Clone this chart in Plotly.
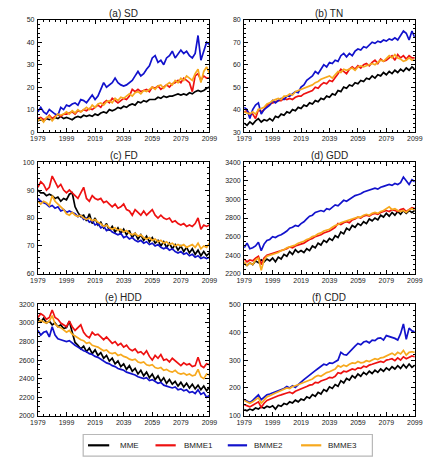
import plotly.graph_objects as go

YEARS = list(range(1979, 2100, 2))
SERIES = ["MME", "BMME1", "BMME2", "BMME3"]
COLORS = ["#000000", "#ee1111", "#1212cc", "#f7a91e"]
XTICKS = [1979, 1999, 2019, 2039, 2059, 2079, 2099]

SD_MME = [5, 5.5, 5, 6, 5.5, 6, 6.5, 6, 7, 6,
          6.5, 6, 5.5, 6.5, 7, 6.5, 7.5, 7, 7.5, 7,
          8, 7.5, 8.5, 9, 8.5, 10, 9.5, 10, 11, 10.5,
          11.5, 11, 12, 12.5, 12, 13.5, 13, 14, 13.5, 14.5,
          14.5, 14.5, 15.5, 15, 16, 15.5, 16, 16, 16.5, 17,
          16.5, 17, 16.5, 17.5, 17, 18, 18.5, 18, 18.5, 19.5,
          20]
SD_BMME1 = [6, 6.5, 5.5, 6, 7.5, 6, 7, 8, 7, 8,
            8, 8.5, 9, 8, 9.5, 9, 10, 9.5, 10.5, 10,
            11, 12, 11, 13, 14, 13, 15, 14, 13, 14,
            15, 14.5, 16, 19, 18, 19, 18, 18.5, 19, 18,
            20, 19.5, 20.5, 19, 20, 21, 20, 21.5, 22, 23,
            22, 24, 23, 22, 18, 25, 26, 23, 25, 24,
            24]
SD_BMME2 = [9, 11, 9, 8, 10, 9, 8, 7.5, 11, 10,
            12, 11.5, 12.5, 13, 12, 14.5, 14, 13, 15, 16.5,
            14.5, 16, 19, 22, 20, 21, 22, 24, 22, 21,
            20.5, 21, 22, 23, 25, 27, 25, 26, 28, 29.5,
            33, 34, 31, 32, 30, 33, 34, 36, 33, 35,
            36.5, 35, 36, 34, 33, 35, 43, 32, 36, 40,
            39]
SD_BMME3 = [5, 6, 4.5, 6.5, 7, 5, 6.5, 8, 7.5, 8,
            9, 8, 9.5, 8.5, 10, 9, 10, 11, 10, 12,
            11, 12.5, 13, 12, 13.5, 14, 13, 15, 14, 15.5,
            15, 16, 17, 16, 17.5, 18, 17, 18.5, 18, 19,
            20, 19, 20.5, 21, 19.5, 21, 22, 21, 23, 22,
            24, 23, 25, 24, 23, 26, 28, 22, 27, 29,
            26]

TN_MME = [34, 33, 34.5, 33.5, 35, 36, 34.5, 35.5, 35, 36,
          35, 37, 36.5, 38, 37.5, 39, 38.5, 40, 39.5, 41,
          40.5, 42, 41.5, 43, 42.5, 44, 43.5, 45, 44.5, 46,
          45.5, 47, 46.5, 48.5, 48, 50, 49.5, 51, 50.5, 52,
          51.5, 53, 52.5, 54, 53.5, 55, 54, 55.5, 55, 56.5,
          55.5, 57, 56, 57.5, 56.5, 58, 57, 58.5, 57.5, 59,
          58]
TN_BMME1 = [39, 39.5, 38, 38, 36, 40, 39, 40, 42, 42.5,
            43, 43.5, 44, 44, 45, 44.5, 45, 44.5, 45.5, 46,
            46, 47, 47.5, 48, 48.5, 50, 49.5, 51, 52, 51.5,
            53, 52.5, 54, 56, 58, 57, 56, 58, 59, 58,
            59.5, 58.5, 60, 60.5, 59.5, 61, 62, 60.5, 62.5, 61.5,
            62, 63, 64, 62, 64.5, 63, 64, 62.5, 64, 63,
            63]
TN_BMME2 = [41, 40, 36, 40, 42, 43, 38, 40, 41, 42,
            44, 43, 44, 45, 44.5, 46, 46, 47, 48, 47.5,
            50, 51, 53, 54, 55, 57, 56, 58, 60, 59,
            61, 60.5, 62, 61.5, 64, 65, 63.5, 65, 64, 66,
            67, 66.5, 68, 67.5, 69, 70, 69.5, 70.5, 70, 71,
            70.5, 71.5, 71, 72, 71, 73, 75, 74, 71, 75,
            72]
TN_BMME3 = [39, 38.5, 38, 39, 38, 40, 40.5, 41, 42.5, 43,
            44, 44.5, 45, 44.5, 46, 46, 47, 46.5, 48, 48.5,
            49, 49.5, 50, 50.5, 51, 52, 52.5, 53.5, 54, 54.5,
            55, 54, 55.5, 57, 56.5, 58, 57.5, 58, 58.5, 57.5,
            59, 59.5, 59, 59.5, 60, 60.5, 60, 61, 62, 61.5,
            63, 64, 63, 64.5, 63, 62.5, 61.5, 62, 63, 62,
            62]

FD_MME = [90, 89, 89, 88, 88.5, 88, 87, 87.5, 86, 87,
          86.5, 88.5, 89, 84, 82, 80.5, 81, 79, 81.5, 78,
          80, 77.5, 78.5, 76.5, 78, 75.5, 77, 75, 76.5, 74.5,
          76, 74, 75.5, 73, 74.5, 72.5, 74, 72, 73.5, 71.5,
          73, 71, 72, 70, 71.5, 69.5, 71, 69, 70.5, 68.5,
          70, 68, 69.5, 67.5, 69, 67, 68.5, 66.5, 68, 66.5,
          67.5]
FD_BMME1 = [91, 93, 92, 90, 91, 95, 93, 91, 92, 90,
            89, 90, 89, 88, 87, 89, 91, 87, 86, 88,
            87, 86.5, 87, 85.5, 86, 85, 84, 85, 83.5, 84,
            85, 83, 82.5, 81, 83, 82, 81, 82.5, 81, 82,
            83, 81, 80, 81, 80, 79.5, 80, 78.5, 79, 78,
            77.5, 78, 77, 77.5, 77, 78, 80, 76, 77.5, 77,
            77.5]
FD_BMME2 = [87, 86, 85.5, 85, 84, 84.5, 83.5, 84, 82.5, 83,
            82, 82.5, 82, 81.5, 80.5, 81, 79.5, 80, 78.5, 79,
            77.5, 78, 76.5, 77, 75.5, 76, 75, 74.5, 74, 74.5,
            73, 73.5, 72.5, 73, 72, 71.5, 72, 71, 71.5, 70.5,
            71, 70, 70.5, 69.5, 69, 69.5, 68.5, 69, 68, 67.5,
            68, 67, 67.5, 66.5, 67, 66, 66.5, 65.5, 66, 65.5,
            66]
FD_BMME3 = [86, 85, 86, 85.5, 84.5, 88, 86, 85, 84, 83,
            81.5, 81, 82, 81, 80.5, 81, 80, 79.5, 80, 79,
            79.5, 78.5, 78, 77, 77.5, 76.5, 76, 76.5, 75.5, 76,
            75, 75.5, 74.5, 74, 74.5, 73.5, 74, 73, 72.5, 73,
            72, 72.5, 71.5, 72, 71, 71.5, 70.5, 71, 70, 70.5,
            70, 70.5, 69.5, 70, 70.5, 69.5, 71, 69, 70, 69.5,
            71]

GDD_MME = [2310, 2290, 2320, 2300, 2340, 2320, 2350, 2330, 2360, 2340,
           2370, 2330, 2380, 2360, 2410, 2390, 2440, 2410, 2460, 2430,
           2450, 2430, 2470, 2450, 2500, 2480, 2530, 2510, 2560, 2540,
           2580, 2560, 2610, 2590, 2650, 2630, 2690, 2670, 2720, 2700,
           2740, 2720, 2760, 2740, 2790, 2770, 2800, 2780, 2830, 2810,
           2850, 2820, 2860, 2830, 2870, 2840, 2880, 2850, 2880, 2860,
           2880]
GDD_BMME1 = [2360, 2330, 2350, 2340, 2370, 2390, 2300, 2370, 2400, 2410,
             2420, 2430, 2440, 2450, 2460, 2470, 2490, 2480, 2500, 2510,
             2520, 2530, 2550, 2570, 2580, 2600, 2610, 2620, 2640, 2650,
             2660, 2680, 2700, 2740, 2730, 2750, 2760, 2750, 2780, 2790,
             2810, 2800, 2820, 2830, 2820, 2840, 2850, 2840, 2860, 2870,
             2880, 2870, 2890, 2880, 2870, 2890, 2900, 2870, 2890, 2910,
             2900]
GDD_BMME2 = [2480, 2530, 2470, 2480, 2500, 2540, 2450, 2520, 2560, 2570,
             2600, 2590, 2610, 2620, 2640, 2660, 2690, 2700, 2720, 2710,
             2740, 2760, 2790, 2820, 2830, 2860, 2870, 2880, 2870, 2900,
             2890, 2920, 2940, 2930, 2960, 2990, 2980, 3000, 3020, 3040,
             3050, 3060, 3080, 3090, 3100, 3110, 3120, 3110, 3130, 3140,
             3150, 3160, 3150, 3170, 3160, 3180, 3240, 3200, 3160, 3210,
             3190]
GDD_BMME3 = [2330, 2290, 2320, 2300, 2350, 2370, 2240, 2350, 2390, 2400,
             2410, 2420, 2430, 2450, 2460, 2480, 2490, 2500, 2510, 2530,
             2540, 2550, 2570, 2580, 2600, 2610, 2630, 2640, 2660, 2670,
             2680, 2700, 2720, 2730, 2750, 2760, 2770, 2780, 2790, 2800,
             2810, 2810, 2830, 2840, 2830, 2850, 2860, 2850, 2870, 2880,
             2900, 2920, 2890, 2900, 2880, 2870, 2880, 2860, 2890, 2900,
             2890]

HDD_MME = [3040, 3010, 3050, 3000, 3020, 2980, 3000, 2960, 2980, 2940,
           2950, 3020, 2900, 2790, 2760, 2720, 2750, 2690, 2730, 2670,
           2710, 2650, 2680, 2620, 2650, 2590, 2620, 2560, 2590, 2530,
           2560, 2500, 2540, 2480, 2510, 2450, 2490, 2430, 2470, 2410,
           2450, 2390, 2430, 2370, 2410, 2350, 2390, 2340, 2370, 2320,
           2360, 2310, 2350, 2300, 2340, 2290, 2330, 2280, 2320, 2270,
           2310]
HDD_BMME1 = [3060, 3100, 3080, 3040, 3060, 3140, 3060, 3040, 3000, 2980,
             2960, 3020, 2960, 2920, 2950, 2980, 2900, 2860, 2840, 2900,
             2870, 2880, 2850, 2820, 2850, 2810, 2780, 2800, 2760, 2780,
             2740, 2760, 2720, 2700, 2720, 2680, 2690, 2660, 2700, 2640,
             2600, 2650, 2620, 2660, 2600, 2610, 2580, 2620, 2590, 2560,
             2540, 2570, 2550, 2560, 2530, 2540, 2630, 2540, 2520, 2560,
             2550]
HDD_BMME2 = [2920, 2870, 2900, 2910, 2850, 2960, 2870, 2830, 2820, 2810,
             2800, 2810, 2780, 2760, 2740, 2720, 2700, 2690, 2670, 2660,
             2640, 2630, 2610, 2590, 2570, 2560, 2540, 2530, 2510, 2500,
             2490, 2470, 2460, 2450, 2440, 2420, 2410, 2400, 2410, 2380,
             2390, 2370, 2350, 2360, 2330, 2320, 2310, 2300, 2310, 2280,
             2290, 2270, 2280, 2250, 2260, 2240, 2280, 2230, 2250, 2200,
             2220]
HDD_BMME3 = [3000, 3030, 3010, 3000, 3020, 3080, 2990, 2960, 2950, 2920,
             2900, 2920, 2880, 2860, 2840, 2820, 2810, 2780, 2790, 2760,
             2750, 2740, 2720, 2700, 2710, 2680, 2670, 2680, 2650, 2660,
             2640, 2630, 2610, 2600, 2610, 2580, 2570, 2580, 2550, 2540,
             2550, 2520, 2510, 2520, 2490, 2500, 2480, 2470, 2490, 2460,
             2450, 2460, 2440, 2450, 2430, 2440, 2500, 2420, 2400, 2450,
             2440]

CDD_MME = [122, 118, 124, 120, 128, 124, 132, 127, 134, 130,
           136, 124, 138, 134, 144, 140, 150, 146, 156, 150,
           160, 156, 168, 163, 176, 170, 184, 178, 194, 188,
           204, 198, 212, 206, 226, 218, 234, 228, 244, 236,
           250, 242, 256, 248, 260, 252, 264, 256, 268, 260,
           272, 264, 276, 268, 280, 270, 284, 272, 286, 274,
           282]
CDD_BMME1 = [140, 135, 132, 138, 145, 150, 130, 145, 155, 160,
             165, 168, 172, 175, 180, 182, 185, 180, 188, 192,
             195, 200, 205, 210, 212, 220, 218, 225, 228, 232,
             238, 236, 242, 255, 252, 260, 258, 262, 268, 265,
             272, 270, 278, 275, 282, 285, 288, 290, 295, 292,
             300, 302, 305, 298, 308, 300, 312, 305, 310, 315,
             312]
CDD_BMME2 = [158, 152, 148, 155, 165, 175, 158, 165, 175, 178,
             182, 185, 188, 192, 198, 205, 200, 208, 202, 212,
             222, 230, 238, 245, 255, 262, 270, 278, 285, 282,
             290, 288, 295, 300, 328, 320, 318, 330, 340, 350,
             360, 355, 365, 368, 362, 372, 370, 378, 380, 372,
             388, 385, 380, 378, 372, 395, 430, 375, 415, 405,
             402]
CDD_BMME3 = [155, 150, 145, 150, 158, 165, 145, 158, 168, 172,
             178, 182, 186, 190, 195, 200, 198, 205, 208, 212,
             215, 220, 225, 228, 232, 240, 245, 242, 250, 255,
             258, 262, 268, 280, 275, 282, 278, 285, 290, 288,
             295, 290, 292, 298, 295, 300, 305, 302, 308, 310,
             315, 320, 325, 318, 328, 322, 335, 318, 328, 330,
             328]

TITLES = ["(a) SD", "(b) TN", "(c) FD", "(d) GDD", "(e) HDD", "(f) CDD"]
PANEL_DATA = [
    [SD_MME, SD_BMME1, SD_BMME2, SD_BMME3],
    [TN_MME, TN_BMME1, TN_BMME2, TN_BMME3],
    [FD_MME, FD_BMME1, FD_BMME2, FD_BMME3],
    [GDD_MME, GDD_BMME1, GDD_BMME2, GDD_BMME3],
    [HDD_MME, HDD_BMME1, HDD_BMME2, HDD_BMME3],
    [CDD_MME, CDD_BMME1, CDD_BMME2, CDD_BMME3],
]
YRANGES = [[0, 50], [30, 80], [60, 100], [2200, 3400], [2000, 3200], [100, 500]]
YDTICK = [10, 10, 10, 200, 200, 100]
YMINOR = [2, 2, 2, 50, 50, 20]

W, H = 444, 469
XD = [[31 / W, 209 / W], [245 / W, 422 / W]]
YD = [[1 - 130 / H, 1 - 16 / H], [1 - 274 / H, 1 - 160.5 / H], [1 - 418 / H, 1 - 305 / H]]

FONT = "Liberation Sans, Arial, sans-serif"
TICKFONT = dict(family=FONT, size=7, color="#222222")

fig = go.Figure()
layout = {}
annotations = []
for i in range(6):
    r, c = divmod(i, 2)
    sfx = "" if i == 0 else str(i + 1)
    for k, name in enumerate(SERIES):
        fig.add_trace(go.Scatter(
            x=YEARS, y=PANEL_DATA[i][k], mode="lines", name=name,
            legendgroup=name, showlegend=False,
            line=dict(color=COLORS[k], width=1.7),
            xaxis="x" + sfx, yaxis="y" + sfx, hoverinfo="skip"))
    common = dict(showline=True, linecolor="#000000", linewidth=1, mirror="allticks",
                  ticks="inside", ticklen=4, tickwidth=1, tickcolor="#000000",
                  showgrid=False, zeroline=False, tickfont=TICKFONT)
    layout["xaxis" + sfx] = dict(
        domain=XD[c], anchor="y" + sfx, range=[1979, 2099],
        tickmode="array", tickvals=XTICKS,
        minor=dict(ticks="inside", ticklen=2, tickcolor="#000000", tick0=1979, dtick=4, showgrid=False),
        **common)
    layout["yaxis" + sfx] = dict(
        domain=YD[r], anchor="x" + sfx, range=YRANGES[i],
        tick0=YRANGES[i][0], dtick=YDTICK[i], ticklabelstandoff=1,
        minor=dict(ticks="inside", ticklen=2, tickcolor="#000000", dtick=YMINOR[i], showgrid=False),
        **common)
    annotations.append(dict(
        text=TITLES[i], x=(XD[c][0] + XD[c][1]) / 2, y=YD[r][1], xref="paper", yref="paper",
        xanchor="center", yanchor="bottom", yshift=-1, showarrow=False,
        font=dict(family=FONT, size=10, color="#222222")))

# legend box drawn in page pixels (converted to paper fractions)
LEG_BOX = (78, 437, 378, 459)
LEG_LINES = [(83, 105), (153, 174), (228, 248), (304, 325)]
LEG_TEXT_X = [114, 180, 253, 330]
LEG_Y = 448
shapes = [dict(type="rect", xref="paper", yref="paper",
               x0=LEG_BOX[0] / W, x1=LEG_BOX[2] / W, y0=1 - LEG_BOX[3] / H, y1=1 - LEG_BOX[1] / H,
               line=dict(color="#b8b8b8", width=1.2), fillcolor="white", layer="below")]
for k, name in enumerate(SERIES):
    shapes.append(dict(type="line", xref="paper", yref="paper",
                       x0=LEG_LINES[k][0] / W, x1=LEG_LINES[k][1] / W,
                       y0=1 - LEG_Y / H, y1=1 - LEG_Y / H,
                       line=dict(color=COLORS[k], width=2.2)))
    annotations.append(dict(
        text=name, x=LEG_TEXT_X[k] / W, y=1 - LEG_Y / H, xref="paper", yref="paper",
        xanchor="left", yanchor="middle", showarrow=False,
        font=dict(family=FONT, size=8, color="#222222")))

fig.update_layout(
    width=W, height=H, autosize=False,
    margin=dict(l=0, r=0, t=0, b=0),
    paper_bgcolor="white", plot_bgcolor="white",
    annotations=annotations, shapes=shapes,
    showlegend=False,
    **layout)

fig.write_html("out.html", config={"displayModeBar": False},
               post_script="document.body.style.margin='0';")
